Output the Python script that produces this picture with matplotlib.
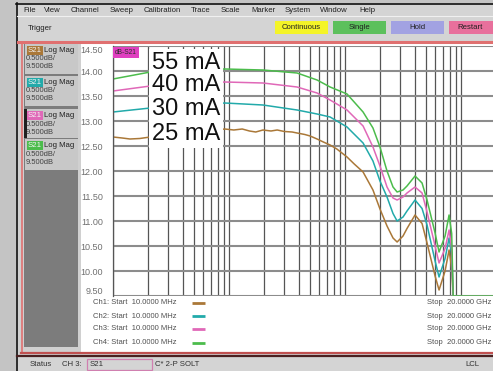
import matplotlib
matplotlib.use("Agg")
import matplotlib.pyplot as plt
from matplotlib.patches import Rectangle
from matplotlib.ticker import LogLocator, NullFormatter, FixedLocator

# ---------------- data (frequency in GHz, magnitude in dB) ----------------
freq_brown = [0.010, 0.012, 0.014, 0.017, 0.021, 0.092, 0.11, 0.13, 0.15, 0.17, 0.196, 0.23, 0.26,
              0.30, 0.35, 0.386, 0.45, 0.50, 0.574, 0.65, 0.743, 0.85, 1.04, 1.2, 1.43, 1.74, 2.0,
              2.30, 2.59, 2.81, 3.16, 3.42, 4.01, 4.61, 5.09, 5.97, 6.46, 7.28, 7.88, 8.30, 8.55, 20.0]
s21_25mA = [12.68, 12.66, 12.64, 12.65, 12.68, 12.84, 12.82, 12.84, 12.80, 12.78, 12.82, 12.80, 12.82,
            12.79, 12.78, 12.76, 12.73, 12.70, 12.64, 12.58, 12.52, 12.44, 12.28, 12.14, 11.98, 11.62, 11.24,
            10.90, 10.66, 10.58, 10.70, 10.85, 11.12, 10.95, 10.56, 9.90, 9.62, 10.00, 10.42, 10.05, 9.50, 9.50]

freq = [0.010, 0.021, 0.092, 0.196, 0.386, 0.574, 0.743, 1.04, 1.43, 1.74, 2.0, 2.30, 2.59, 2.81,
        3.16, 3.42, 4.01, 4.61, 5.09, 5.97, 6.46, 7.28, 7.88, 8.30, 8.55, 20.0]
s21_30mA = [13.18, 13.26, 13.36, 13.32, 13.22, 13.14, 13.08, 12.88, 12.56, 12.20, 11.80, 11.48, 11.15, 11.00,
            11.08, 11.20, 11.42, 11.25, 10.92, 10.20, 9.88, 10.25, 10.66, 10.35, 9.50, 9.50]
s21_40mA = [13.60, 13.70, 13.78, 13.76, 13.68, 13.56, 13.42, 13.22, 12.90, 12.48, 12.10, 11.68, 11.46, 11.42,
            11.48, 11.56, 11.68, 11.56, 11.18, 10.50, 10.16, 10.45, 10.82, 10.45, 9.50, 9.50]
s21_55mA = [13.84, 13.98, 14.04, 14.02, 13.96, 13.82, 13.68, 13.54, 13.18, 12.86, 12.48, 12.00, 11.68, 11.58,
            11.62, 11.70, 11.90, 11.76, 11.42, 10.76, 10.38, 10.70, 11.12, 10.75, 9.50, 9.50]

trace_labels = ["55 mA", "40 mA", "30 mA", "25 mA"]
y_ticks = [9.5, 10.0, 10.5, 11.0, 11.5, 12.0, 12.5, 13.0, 13.5, 14.0, 14.5]
channel_names = ["Ch1", "Ch2", "Ch3", "Ch4"]
menu_items = ["File", "View", "Channel", "Sweep", "Calibration", "Trace", "Scale", "Marker",
              "System", "Window", "Help"]
buttons = ["Continuous", "Single", "Hold", "Restart"]

# ---------------- styling ----------------
C_BROWN, C_TEAL, C_PINK, C_GREEN = "#aa7838", "#22aaaa", "#e068b8", "#4cbc4c"
W, H = 493, 371
UI = "Liberation Sans"

fig = plt.figure(figsize=(W / 100, H / 100), dpi=100)
fig.patch.set_facecolor("#c4c4c4")

bg = fig.add_axes([0, 0, 1, 1])
bg.set_xlim(0, W)
bg.set_ylim(H, 0)
bg.axis("off")


def rect(x0, y0, x1, y1, fc, ec="none", lw=0, z=1):
    bg.add_patch(Rectangle((x0, y0), x1 - x0, y1 - y0, facecolor=fc, edgecolor=ec, linewidth=lw, zorder=z))


def txt(x, y, s, size=5.5, color="#202020", ha="left", va="center", z=5, **kw):
    bg.text(x, y, s, fontsize=size, color=color, ha=ha, va=va, zorder=z, family=UI, **kw)


# window chrome
rect(16, 3, W + 5, H + 5, "#d4d4d4")
bg.plot([16.5, 16.5], [3, H], color="#101010", lw=1.2, zorder=2)
bg.plot([16, W], [3.5, 3.5], color="#101010", lw=1.2, zorder=2)
bg.plot([17, W], [16, 16], color="#f0f0f0", lw=0.8, zorder=2)

menu_x = [23, 44, 71, 110, 144, 191, 221, 251, 285, 320, 359]
for mx, name in zip(menu_x, menu_items):
    txt(mx, 10, name, size=5.6)

txt(28, 28, "Trigger", size=5.6)
btn_x = [(275, 328, "#f4f428"), (333, 386, "#5cc05c"), (391, 444, "#a2a2e2"), (449, 510, "#e8709c")]
for (x0, x1, c), name in zip(btn_x, buttons):
    rect(x0, 21, x1, 34, c, z=2)
    txt((x0 + x1) / 2 if x1 < W else 470, 27.5, name, size=5.6, ha="center")

# main frame
rect(18, 42, W + 5, 353, "#d0d0d0", z=1)
bg.plot([18, W], [42, 42], color="#e07070", lw=2.2, zorder=3)
bg.plot([21.8, 21.8], [42, 353], color="#e07070", lw=1.2, zorder=3)
bg.plot([21, W], [353.3, 353.3], color="#c05050", lw=1.6, zorder=3)
bg.plot([17, W], [355.8, 355.8], color="#4a2020", lw=1.6, zorder=3)

# left trace panel
rect(24, 44, 78, 347, "#7c7c7c", z=2)
boxes = [(44, 74, C_BROWN), (76, 106, C_TEAL), (109, 138, C_PINK), (139, 170, C_GREEN)]
for i, (y0, y1, c) in enumerate(boxes):
    rect(25, y0, 78, y1, "#c8c8c8", z=3)
    rect(27, y0 + 1.5, 43, y0 + 11, c, z=4)
    txt(28, y0 + 6.5, "S21", size=5.6, color="#f4f4f4")
    txt(44, y0 + 6.5, "Log Mag", size=5.6)
    txt(26, y0 + 15, "0.500dB/", size=5.4, color="#404040")
    txt(26, y0 + 23, "9.500dB", size=5.4, color="#404040")
rect(24, 109, 26.5, 138, "#202020", z=5)

# white plot region
rect(81, 43, W + 5, 352, "#ffffff", z=2)

# channel legend rows under the grid
legend_y = [303, 316, 329, 343]
for name, yy, c in zip(channel_names, legend_y, [C_BROWN, C_TEAL, C_PINK, C_GREEN]):
    txt(93, yy, f"{name}: Start  10.0000 MHz", size=5.5, color="#505050")
    bg.plot([192, 205], [yy, yy], color=c, lw=2.0, zorder=5, solid_capstyle="butt")
    txt(427, yy, "Stop  20.0000 GHz", size=5.5, color="#505050")

# status bar
rect(17, 357, W + 5, H + 5, "#d4d4d4", z=1)
txt(30, 364, "Status", size=5.6, color="#303030")
txt(62, 364, "CH 3:", size=5.6, color="#303030")
rect(87, 359, 152, 370, "#d4d4d4", ec="#d080b0", lw=0.9, z=3)
txt(90, 364.5, "S21", size=5.6, color="#303030")
txt(155, 364, "C* 2-P SOLT", size=5.6, color="#303030")
txt(465, 364, "LCL", size=5.6, color="#303030")

# ---------------- measurement grid ----------------
ax = fig.add_axes([113 / W, 75 / H, 383 / W, 250 / H])
ax.set_facecolor("white")
ax.set_xscale("log")
ax.set_xlim(0.01, 20)
ax.set_ylim(9.5, 14.5)
ax.xaxis.set_major_locator(LogLocator(base=10, numticks=10))
ax.xaxis.set_minor_locator(LogLocator(base=10, subs=range(2, 10), numticks=20))
ax.xaxis.set_minor_formatter(NullFormatter())
ax.set_xticklabels([])
ax.tick_params(axis="x", which="both", length=0, labelbottom=False)
ax.yaxis.set_major_locator(FixedLocator(y_ticks))
ax.set_yticklabels([f"{v:.2f}" for v in y_ticks], family=UI, fontsize=6.5, color="#707070")
ax.tick_params(axis="y", length=0, pad=7)
labs = ax.get_yticklabels()
labs[0].set_va("bottom")
labs[-1].set_va("top")
ax.grid(True, axis="x", which="both", color="#555555", lw=0.9)
ax.grid(True, axis="y", which="major", color="#8c8c8c", lw=1.5)
ax.set_axisbelow(True)
for s in ["top", "right", "bottom"]:
    ax.spines[s].set_visible(False)
ax.spines["left"].set_color("#555555")
ax.spines["left"].set_linewidth(0.9)

ax.plot(freq_brown, s21_25mA, color=C_BROWN, lw=1.1)
ax.plot(freq, s21_30mA, color=C_TEAL, lw=1.1)
ax.plot(freq, s21_40mA, color=C_PINK, lw=1.1)
ax.plot(freq, s21_55mA, color=C_GREEN, lw=1.1)


def fx(x):
    return x / W


def fy(y):
    return 1 - y / H


# marker readout badge
fig.text(fx(115), fy(52.5), "dB-S21", fontsize=4.8, family=UI, color="#303030", va="center",
         bbox=dict(boxstyle="square,pad=0.25", fc="#e040c0", ec="none"))

# current labels
label_y = [63, 85, 109, 134]
for lab, yy in zip(trace_labels, label_y):
    fig.text(fx(186), fy(yy), lab, fontsize=17, family=UI, color="#111111", ha="center", va="center",
             bbox=dict(boxstyle="square,pad=0.12", fc="white", ec="none"))

fig.savefig("out.png", dpi=100)
